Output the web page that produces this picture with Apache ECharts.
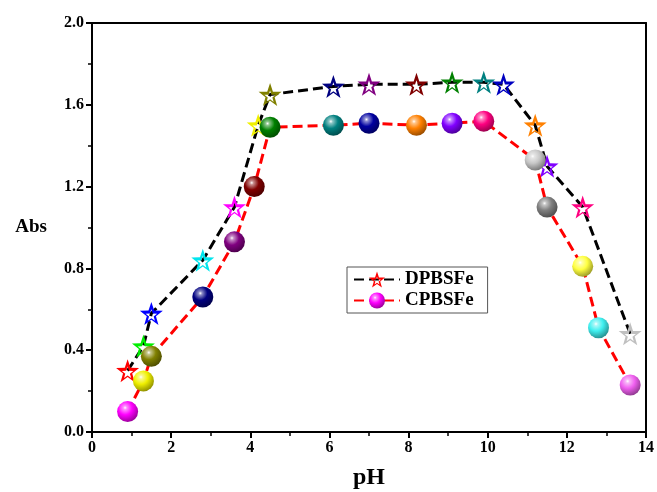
<!DOCTYPE html>
<html>
<head>
<meta charset="utf-8">
<script src="https://cdn.jsdelivr.net/npm/echarts@6/dist/echarts.min.js"></script>
<style>
html,body{margin:0;padding:0;background:#fff;}
#main{width:657px;height:492px;}
</style>
</head>
<body>
<div id="main"></div>
<script>
// DPBSFe (stars)
var phDP = [0.9, 1.3, 1.5, 2.8, 3.6, 4.2, 4.5, 6.1, 7.0, 8.2, 9.1, 9.9, 10.4, 11.2, 11.5, 12.4, 13.6];
var absDP = [0.30, 0.42, 0.58, 0.84, 1.10, 1.50, 1.65, 1.69, 1.70, 1.70, 1.71, 1.71, 1.70, 1.50, 1.30, 1.10, 0.48];
var starColors = ['#ff0000', '#00ee00', '#0000ff', '#00e5ee', '#ff00ff', '#f0f000', '#808000', '#000080',
	'#800080', '#800000', '#008000', '#008080', '#0000c0', '#ff8000', '#8000ff', '#ff0080', '#c0c0c0'];

// CPBSFe (spheres)
var phCP = [0.9, 1.3, 1.5, 2.8, 3.6, 4.1, 4.5, 6.1, 7.0, 8.2, 9.1, 9.9, 11.2, 11.5, 12.4, 12.8, 13.6];
var absCP = [0.10, 0.25, 0.37, 0.66, 0.93, 1.20, 1.49, 1.50, 1.51, 1.50, 1.51, 1.52, 1.33, 1.10, 0.81, 0.51, 0.23];
var sphereColors = ['#ff00ff', '#f0f000', '#808000', '#000080', '#800080', '#800000', '#008000', '#008080',
	'#0000a0', '#ff8000', '#8000ff', '#ff0080', '#c8c8c8', '#808080', '#ffff40', '#40f0f0', '#f060f0'];

var xTicks = [0, 14, 2];
var yTicks = [0, 2.0, 0.4];

var FONT = 'Liberation Serif';

// 空心五角星：外轮廓顺时针，内轮廓逆时针
function starPath() {
	function pts(cx, cy, R, r, rev) {
		var a = [];
		for (var k = 0; k < 10; k++) {
			var ang = -Math.PI / 2 + k * Math.PI / 5;
			var rad = k % 2 ? r : R;
			a.push([(cx + rad * Math.cos(ang)).toFixed(1), (cy + rad * Math.sin(ang)).toFixed(1)]);
		}
		if (rev) a.reverse();
		return 'M' + a.map(function (p) { return p.join(','); }).join(' L') + ' Z';
	}
	return 'path://' + pts(50, 53, 50, 20, false) + ' ' + pts(50, 57, 25, 10, true);
}
var STAR = starPath();

function shade(hex, f) {
	var r = parseInt(hex.substr(1, 2), 16), g = parseInt(hex.substr(3, 2), 16), b = parseInt(hex.substr(5, 2), 16);
	function c(v) { return Math.max(0, Math.min(255, Math.round(f < 0 ? v * (1 + f) : v + (255 - v) * f))); }
	return 'rgb(' + c(r) + ',' + c(g) + ',' + c(b) + ')';
}
function ball(col) {
	return new echarts.graphic.RadialGradient(0.38, 0.32, 0.75, [
		{offset: 0, color: '#ffffff'},
		{offset: 0.12, color: shade(col, 0.55)},
		{offset: 0.45, color: col},
		{offset: 1, color: shade(col, -0.45)}
	]);
}

var dpData = [], cpData = [];
for (var i = 0; i < phDP.length; i++) {
	dpData.push({value: [phDP[i], absDP[i]], itemStyle: {color: starColors[i]}});
}
for (var j = 0; j < phCP.length; j++) {
	cpData.push({value: [phCP[j], absCP[j]], itemStyle: {color: ball(sphereColors[j])}});
}

var myChart = echarts.init(document.getElementById('main'));
var labelStyle = {color: '#000', fontFamily: FONT, fontWeight: 'bold', fontSize: 16};
var option = {
	animation: false,
	backgroundColor: '#fff',
	grid: {left: 92, top: 23, right: 11, bottom: 60, show: false, outerBoundsMode: 'none', containLabel: false},
	legend: {
		left: 347, top: 267,
		orient: 'vertical',
		itemWidth: 46, itemHeight: 20, itemGap: 2,
		padding: [3, 14, 3, 6],
		borderColor: '#555', borderWidth: 1,
		backgroundColor: '#fff',
		textStyle: {color: '#000', fontFamily: FONT, fontWeight: 'bold', fontSize: 19},
		data: [
			{name: 'DPBSFe', itemStyle: {color: '#ff0000'}},
			{name: 'CPBSFe', itemStyle: {color: ball('#ff00ff')}}
		]
	},
	xAxis: [{
		type: 'value', min: xTicks[0], max: xTicks[1], interval: xTicks[2],
		name: 'pH', nameLocation: 'middle', nameGap: 34,
		nameTextStyle: {color: '#000', fontFamily: FONT, fontWeight: 'bold', fontSize: 24},
		axisLine: {lineStyle: {color: '#000', width: 2}},
		axisTick: {inside: false, length: 6, lineStyle: {color: '#000', width: 2}},
		minorTick: {show: true, splitNumber: 2, length: 4, lineStyle: {color: '#000', width: 1.5}},
		axisLabel: labelStyle,
		splitLine: {show: false}
	}, {
		type: 'value', position: 'top', min: xTicks[0], max: xTicks[1],
		axisLine: {show: true, onZero: false, lineStyle: {color: '#000', width: 2}},
		axisTick: {show: false}, axisLabel: {show: false}, splitLine: {show: false}
	}],
	yAxis: [{
		type: 'value', min: yTicks[0], max: yTicks[1], interval: yTicks[2],
		name: 'Abs', nameLocation: 'middle', nameGap: 45, nameRotate: 0,
		nameTextStyle: {color: '#000', fontFamily: FONT, fontWeight: 'bold', fontSize: 19},
		axisLine: {show: true, lineStyle: {color: '#000', width: 2}},
		axisTick: {inside: false, length: 6, lineStyle: {color: '#000', width: 2}},
		minorTick: {show: true, splitNumber: 2, length: 4, lineStyle: {color: '#000', width: 1.5}},
		axisLabel: Object.assign({formatter: function (v) { return v.toFixed(1); }}, labelStyle),
		splitLine: {show: false}
	}, {
		type: 'value', position: 'right', min: yTicks[0], max: yTicks[1],
		axisLine: {show: true, onZero: false, lineStyle: {color: '#000', width: 2}},
		axisTick: {show: false}, axisLabel: {show: false}, splitLine: {show: false}
	}],
	series: [{
		name: 'DPBSFe', type: 'line',
		symbol: STAR, symbolSize: 23,
		lineStyle: {color: '#000', width: 3, type: [10, 5]},
		itemStyle: {color: '#000'},
		data: dpData, z: 3
	}, {
		name: 'CPBSFe', type: 'line',
		symbol: 'circle', symbolSize: 21,
		lineStyle: {color: '#ff0000', width: 3, type: [10, 5]},
		itemStyle: {color: '#ff0000'},
		data: cpData, z: 4
	}]
};
myChart.setOption(option);
</script>
</body>
</html>
